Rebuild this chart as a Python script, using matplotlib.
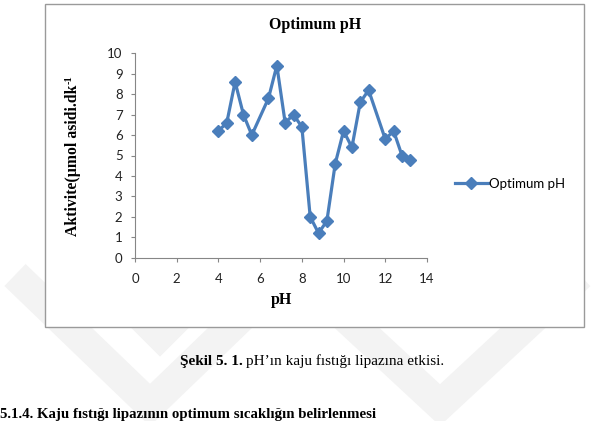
import matplotlib.pyplot as plt
from matplotlib.patches import Rectangle
from matplotlib.lines import Line2D

# data
ph = [4.0, 4.4, 4.8, 5.2, 5.6, 6.4, 6.8, 7.2, 7.6, 8.0, 8.4, 8.8,
      9.2, 9.6, 10.0, 10.4, 10.8, 11.2, 12.0, 12.4, 12.8, 13.2]
activity = [6.2, 6.6, 8.6, 7.0, 6.0, 7.8, 9.4, 6.6, 7.0, 6.4, 2.0, 1.2,
            1.8, 4.6, 6.2, 5.4, 7.6, 8.2, 5.8, 6.2, 5.0, 4.8]
x_ticks = [0, 2, 4, 6, 8, 10, 12, 14]
y_ticks = list(range(0, 11))

W, H = 594, 421
fig = plt.figure(figsize=(W / 100, H / 100), dpi=100)


def fx(px):
    return px / W


def fy(py):
    return 1 - py / H


# faint watermark chevrons behind everything
wm = dict(color='#f3f3f3', lw=22, solid_joinstyle='miter', solid_capstyle='butt',
          transform=fig.transFigure, zorder=0)
fig.add_artist(Line2D([fx(15), fx(150), fx(285)], [fy(275), fy(405), fy(275)], **wm))
fig.add_artist(Line2D([fx(300), fx(440), fx(580)], [fy(275), fy(405), fy(275)], **wm))
fig.add_artist(Line2D([fx(100), fx(160), fx(220)], [fy(275), fy(335), fy(275)], **wm))

# chart frame
fig.add_artist(Rectangle((fx(45), fy(327)), fx(584) - fx(45), fy(4) - fy(327),
                         transform=fig.transFigure, facecolor='white',
                         edgecolor='#9a9a9a', lw=1, zorder=1))

ax = fig.add_axes([fx(135), fy(257.7), fx(427) - fx(135), fy(53.3) - fy(257.7)])
ax.set_zorder(2)
ax.patch.set_alpha(0)

ax.plot(ph, activity, color='#4a7ebb', lw=2.3, marker='D', ms=6,
        label='Optimum pH', clip_on=False)

ax.set_xlim(0, 14)
ax.set_ylim(0, 10)
ax.set_xticks(x_ticks)
ax.set_yticks(y_ticks)
for s in ['top', 'right']:
    ax.spines[s].set_visible(False)
for s in ['left', 'bottom']:
    ax.spines[s].set_color('#868686')
    ax.spines[s].set_linewidth(0.8)
ax.tick_params(axis='both', colors='#868686', length=3, width=0.8,
               labelsize=9.5, labelcolor='#222222')
ax.tick_params(axis='x', pad=8)
ax.tick_params(axis='y', pad=6)
for lab in ax.get_xticklabels() + ax.get_yticklabels():
    lab.set_family('Lato')

serif = 'Liberation Serif'
fig.text(fx(315), fy(25), 'Optimum pH', ha='center', va='center',
         family=serif, weight='bold', fontsize=11.5)
fig.text(fx(281), fy(300), 'pH', ha='center', va='center',
         family=serif, weight='bold', fontsize=11.5)

# y label with a small superscript -1
ylab = fig.text(fx(73), fy(160), 'Aktivite(µmol asidi.dk', ha='center', va='center',
                rotation=90, family=serif, weight='bold', fontsize=11.3)
fig.canvas.draw()
bb = ylab.get_window_extent()
fig.text(fx(69), bb.y1 / H, '-1', ha='center', va='bottom', rotation=90,
         family=serif, weight='bold', fontsize=7.5)

ax.legend(loc='center left', bbox_to_anchor=(fx(455), fy(184)),
          bbox_transform=fig.transFigure, frameon=False,
          prop={'family': 'Lato', 'size': 9.5}, handlelength=2.5,
          handletextpad=0.05, borderpad=0, borderaxespad=0)

# caption and next heading from the thesis page
fig.text(fx(243), fy(361), 'Şekil 5. 1.', ha='right', va='center',
         family=serif, weight='bold', fontsize=11)
fig.text(fx(246), fy(361), 'pH’ın kaju fıstığı lipazına etkisi.', ha='left', va='center',
         family=serif, fontsize=11)
fig.text(fx(0), fy(418), '5.1.4. Kaju fıstığı lipazının optimum sıcaklığın belirlenmesi',
         ha='left', va='baseline', family=serif, weight='bold', fontsize=10.7)

fig.savefig('out.png', dpi=100)
